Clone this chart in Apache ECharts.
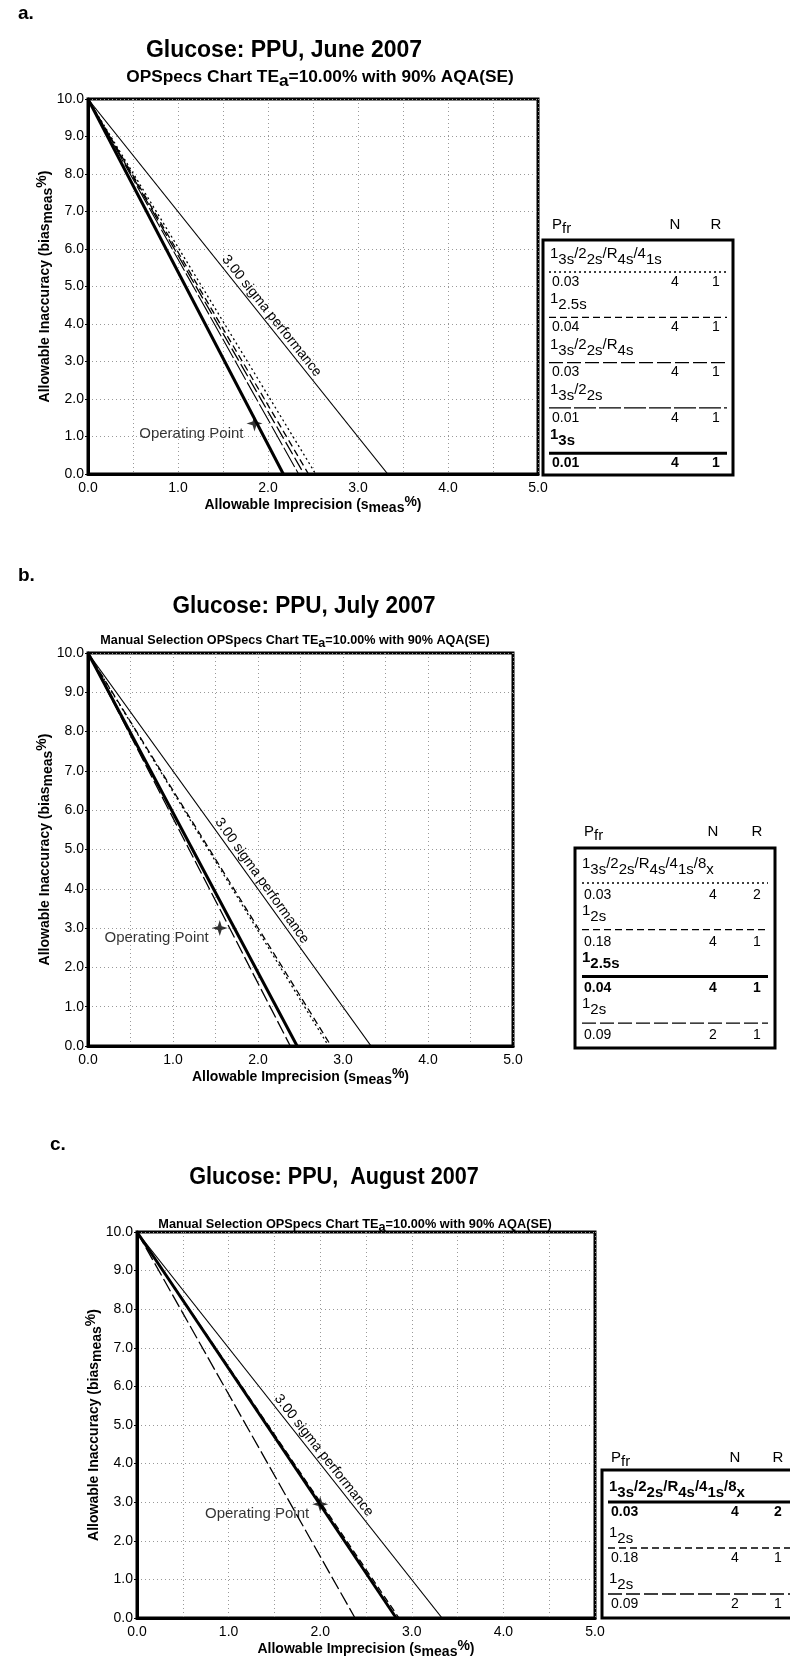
<!DOCTYPE html>
<html>
<head>
<meta charset="utf-8">
<script src="https://cdn.jsdelivr.net/npm/echarts@6.0.0/dist/echarts.min.js"></script>
<style>
  html, body { margin: 0; padding: 0; background: #fff; }
  #chart { width: 790px; height: 1666px; }
</style>
</head>
<body>
<div id="chart"></div>
<script>
// axis ticks shared by the three OPSpecs charts
const xTicks = [0, 1, 2, 3, 4, 5]
const yTicks = [0, 1, 2, 3, 4, 5, 6, 7, 8, 9, 10]
const TEa = 10 // every line starts at (0, TEa)
const sigmaEnd = 3.33 // 3.00 sigma line meets bias 0 at TEa / 3

// a. June 2007
const rulesA = ['1_3s/2_2s/R_4s/4_1s', '1_2.5s', '1_3s/2_2s/R_4s', '1_3s/2_2s', '1_3s']
const pfrA = ['0.03', '0.04', '0.03', '0.01', '0.01']
const nA = [4, 4, 4, 4, 4]
const rA = [1, 1, 1, 1, 1]
const endA = [2.53, 2.45, 2.40, 2.34, 2.17]
const opA = [1.85, 1.35]

// b. July 2007
const rulesB = ['1_3s/2_2s/R_4s/4_1s/8_x', '1_2s', '1_2.5s', '1_2s']
const pfrB = ['0.03', '0.18', '0.04', '0.09']
const nB = [4, 4, 4, 2]
const rB = [2, 1, 1, 1]
const endB = [2.83, 2.86, 2.46, 2.38]
const opB = [1.55, 3.0]

// c. August 2007
const rulesC = ['1_3s/2_2s/R_4s/4_1s/8_x', '1_2s', '1_2s']
const pfrC = ['0.03', '0.18', '0.09']
const nC = [4, 4, 2]
const rC = [2, 1, 1]
const endC = [2.83, 2.86, 2.38]
const opC = [2.0, 2.95]

const FONT = '"Liberation Sans", Arial, Helvetica, sans-serif'
const BLACK = '#000'

const lineStyles = {
  dot: { width: 1.3, type: [2, 3] },
  dash: { width: 1.3, type: [7, 4] },
  long: { width: 1.3, type: [14, 4] },
  thin: { width: 1.1, type: [22, 3] },
  thick: { width: 3, type: 'solid' }
}
const stylesA = ['dot', 'dash', 'long', 'thin', 'thick']
const stylesB = ['dot', 'dash', 'thick', 'long']
const stylesC = ['thick', 'dash', 'long']

const panels = [
  {
    tag: 'a.', tagPos: [18, 14],
    title: 'Glucose: PPU, June 2007', titlePos: [284, 51], titleSize: 23, titleScale: 1,
    sub: 'OPSpecs Chart TE{d|a}=10.00% with 90% AQA(SE)', subPos: [320, 78], subSize: 16, subScale: 1.08,
    grid: { left: 88, top: 99, width: 450, height: 375 },
    rules: rulesA, pfr: pfrA, n: nA, r: rA, ends: endA, styles: stylesA, op: opA,
    legend: { left: 543, top: 240, right: 733, bottom: 475, headY: 225, textX: 552, nX: 675, rX: 716,
      row0: 257, step: 45.3, lineDy: 15, valDy: 25, lineX1: 549, lineX2: 727 }
  },
  {
    tag: 'b.', tagPos: [18, 576],
    title: 'Glucose: PPU, July 2007', titlePos: [304, 607], titleSize: 23, titleScale: 0.98,
    sub: 'Manual Selection OPSpecs Chart TE{d|a}=10.00% with 90% AQA(SE)', subPos: [295, 640], subSize: 13, subScale: 0.97,
    grid: { left: 88, top: 653, width: 425, height: 393 },
    rules: rulesB, pfr: pfrB, n: nB, r: rB, ends: endB, styles: stylesB, op: opB,
    legend: { left: 575, top: 848, right: 775, bottom: 1048, headY: 832, textX: 584, nX: 713, rX: 757,
      row0: 867, step: 46.7, lineDy: 16, valDy: 28, lineX1: 582, lineX2: 768 }
  },
  {
    tag: 'c.', tagPos: [50, 1145],
    title: 'Glucose: PPU,  August 2007', titlePos: [334, 1178], titleSize: 23, titleScale: 0.94,
    sub: 'Manual Selection OPSpecs Chart TE{d|a}=10.00% with 90% AQA(SE)', subPos: [355, 1224], subSize: 13, subScale: 0.98,
    grid: { left: 137, top: 1232, width: 458, height: 386 },
    rules: rulesC, pfr: pfrC, n: nC, r: rC, ends: endC, styles: stylesC, op: opC,
    legend: { left: 602, top: 1470, right: 806, bottom: 1618, headY: 1458, textX: 611, nX: 735, rX: 778,
      row0: 1490, step: 46, lineDy: 12, valDy: 22, lineX1: 608, lineX2: 792 }
  }
]

function richSet(size, weight, gap) {
  const base = { fontSize: size, fontWeight: weight, fontFamily: FONT, color: BLACK, lineHeight: size + gap }
  return {
    n: Object.assign({}, base, { verticalAlign: 'middle' }),
    u: Object.assign({}, base, { verticalAlign: 'top' }),
    d: Object.assign({}, base, { verticalAlign: 'bottom' })
  }
}

// '1_3s/2_2s' -> raised rule count, lowered limit
function ruleRich(rule) {
  return rule.split('/').map((part, k) => {
    const bits = part.split('_')
    return '{u|' + (k ? '/' : '') + bits[0] + '}{d|' + bits[1] + '}'
  }).join('')
}

function textEl(x, y, text, o) {
  o = o || {}
  const align = o.align || 'left'
  return {
    type: 'text', x: x, y: y, z: 100, scaleX: o.scaleX || 1, rotation: o.rotation || 0,
    silent: true,
    style: {
      text: text, fill: BLACK,
      fontSize: o.size || 14, fontWeight: o.weight || 'normal', fontFamily: FONT,
      textAlign: align, align: align,
      textVerticalAlign: 'middle', verticalAlign: 'middle',
      rich: o.rich
    }
  }
}

const grids = []
const xAxes = []
const yAxes = []
const series = []
let graphics = []

panels.forEach((p, i) => {
  grids.push(Object.assign({
    show: true, borderColor: BLACK, borderWidth: 3, backgroundColor: 'transparent',
    containLabel: false, outerBoundsMode: 'none'
  }, p.grid))

  const dotted = { color: '#999', width: 1, type: [1, 3] }

  xAxes.push({
    gridIndex: i, type: 'value',
    min: xTicks[0], max: xTicks[xTicks.length - 1], interval: xTicks[1] - xTicks[0],
    axisLine: { show: true, lineStyle: { color: BLACK, width: 3 } },
    axisTick: { show: false },
    minorTick: { show: false, splitNumber: 2 },
    splitLine: { show: true, lineStyle: dotted },
    minorSplitLine: { show: true, lineStyle: dotted },
    axisLabel: { formatter: v => v.toFixed(1), color: BLACK, fontSize: 14, fontFamily: FONT, margin: 7 },
    name: '{n|Allowable Imprecision (s}{d|meas}{u|%}{n|)}',
    nameLocation: 'middle', nameGap: 21, nameMoveOverlap: false,
    nameTextStyle: { rich: richSet(14, 'bold', 6) }
  })

  yAxes.push({
    gridIndex: i, type: 'value',
    min: yTicks[0], max: yTicks[yTicks.length - 1], interval: yTicks[1] - yTicks[0],
    axisLine: { show: true, lineStyle: { color: BLACK, width: 3 } },
    axisTick: { show: true, length: 3, lineStyle: { color: BLACK } },
    splitLine: { show: true, lineStyle: dotted },
    axisLabel: { formatter: v => v.toFixed(1), color: BLACK, fontSize: 14, fontFamily: FONT, margin: 4 },
    name: '{n|Allowable Inaccuracy (bias}{d|meas}{u|%}{n|)}',
    nameLocation: 'middle', nameRotate: 90, nameGap: 33, nameMoveOverlap: false,
    nameTextStyle: { rich: richSet(14, 'bold', 6) }
  })

  // 3.00 sigma performance
  series.push({
    type: 'line', xAxisIndex: i, yAxisIndex: i, data: [[0, TEa], [sigmaEnd, 0]],
    symbol: 'none', silent: true, animation: false, z: 3,
    lineStyle: { color: BLACK, width: 1.2, type: 'solid' }
  })

  p.rules.forEach((rule, k) => {
    const s = lineStyles[p.styles[k]]
    series.push({
      type: 'line', name: rule, xAxisIndex: i, yAxisIndex: i,
      data: [[0, TEa], [p.ends[k], 0]],
      symbol: 'none', silent: true, animation: false,
      z: p.styles[k] === 'thick' ? 5 : 4,
      lineStyle: { color: BLACK, width: s.width, type: s.type }
    })
  })

  series.push({
    type: 'scatter', xAxisIndex: i, yAxisIndex: i, data: [p.op],
    symbol: 'path://M0,-10 L2.4,-2.4 L10,0 L2.4,2.4 L0,10 L-2.4,2.4 L-10,0 L-2.4,-2.4 Z',
    symbolSize: 16, z: 6, animation: false,
    itemStyle: { color: BLACK },
    label: {
      show: true, position: 'left', distance: 3, offset: [0, 10],
      formatter: 'Operating Point', color: BLACK, fontSize: 15, fontFamily: FONT
    }
  })

  // headings
  graphics.push(textEl(p.tagPos[0], p.tagPos[1], p.tag, { size: 19, weight: 'bold' }))
  graphics.push(textEl(p.titlePos[0], p.titlePos[1], p.title,
    { size: p.titleSize, weight: 'bold', align: 'center', scaleX: p.titleScale }))
  graphics.push(textEl(p.subPos[0], p.subPos[1], '{n|' + p.sub.replace('{d|a}', '}{d|a}{n|') + '}',
    { size: p.subSize, weight: 'bold', align: 'center', scaleX: p.subScale, rich: richSet(p.subSize, 'bold', 7) }))

  // rule table to the right
  const L = p.legend
  graphics.push({
    type: 'rect', z: 90, silent: true,
    shape: { x: L.left, y: L.top, width: L.right - L.left, height: L.bottom - L.top },
    style: { fill: 'none', stroke: BLACK, lineWidth: 3 }
  })
  graphics.push(textEl(L.textX, L.headY, '{n|P}{d|fr}', { rich: richSet(15, 'normal', 8) }))
  graphics.push(textEl(L.nX, L.headY, 'N', { size: 15, align: 'center' }))
  graphics.push(textEl(L.rX, L.headY, 'R', { size: 15, align: 'center' }))
  p.rules.forEach((rule, k) => {
    const y0 = L.row0 + k * L.step
    const key = p.styles[k]
    const s = lineStyles[key]
    const w = key === 'thick' ? 'bold' : 'normal'
    graphics.push(textEl(L.textX - 2, y0, ruleRich(rule), { rich: richSet(15, w, 6) }))
    graphics.push({
      type: 'line', z: 95, silent: true,
      shape: { x1: L.lineX1, y1: y0 + L.lineDy, x2: L.lineX2, y2: y0 + L.lineDy },
      style: { stroke: BLACK, lineWidth: s.width, lineDash: Array.isArray(s.type) ? s.type : null }
    })
    graphics.push(textEl(L.textX, y0 + L.valDy, p.pfr[k], { weight: w }))
    graphics.push(textEl(L.nX, y0 + L.valDy, String(p.n[k]), { weight: w, align: 'center' }))
    graphics.push(textEl(L.rX, y0 + L.valDy, String(p.r[k]), { weight: w, align: 'center' }))
  })
})

const chart = echarts.init(document.getElementById('chart'))
chart.setOption({
  animation: false,
  backgroundColor: '#fff',
  grid: grids,
  xAxis: xAxes,
  yAxis: yAxes,
  series: series
})

// "3.00 sigma performance" written along the sigma line, just above it
panels.forEach((p, i) => {
  const a = chart.convertToPixel({ gridIndex: i }, [0, TEa])
  const b = chart.convertToPixel({ gridIndex: i }, [sigmaEnd, 0])
  const dx = b[0] - a[0]
  const dy = b[1] - a[1]
  const len = Math.sqrt(dx * dx + dy * dy)
  const t = 1.97 / sigmaEnd
  const cx = a[0] + dx * t + dy / len * 8
  const cy = a[1] + dy * t - dx / len * 8
  graphics.push(textEl(cx, cy, '3.00 sigma performance',
    { size: 14, align: 'center', rotation: Math.atan2(-dy, dx) }))
})

chart.setOption({ graphic: graphics })
</script>
</body>
</html>
